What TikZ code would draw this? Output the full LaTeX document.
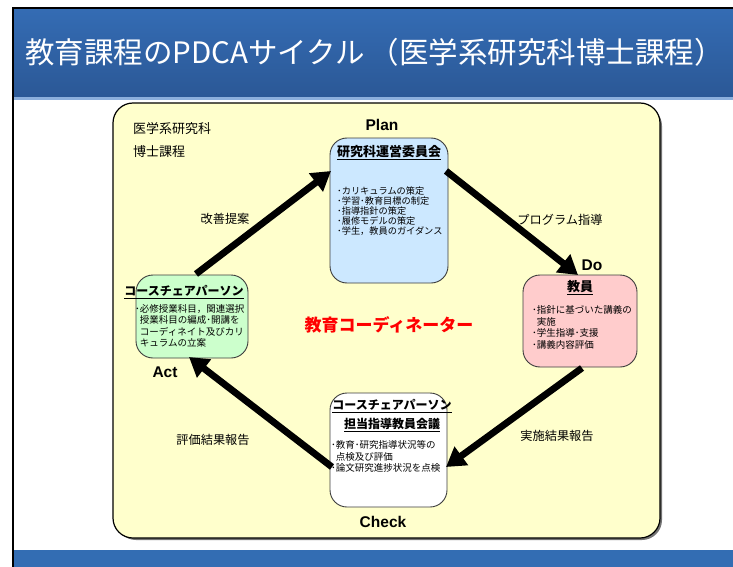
\documentclass[tikz,border=0pt]{standalone}
\usepackage{fontspec}
\setmainfont{Noto Sans CJK JP}
\newfontfamily\latinb{Liberation Sans}
\usetikzlibrary{arrows.meta}
\definecolor{hdtop}{RGB}{52,108,180}
\definecolor{hdbot}{RGB}{43,88,150}
\definecolor{hdline}{RGB}{140,175,220}
\definecolor{barblue}{RGB}{51,109,179}
\definecolor{bgyellow}{RGB}{255,255,204}
\definecolor{planblue}{RGB}{204,232,255}
\definecolor{dopink}{RGB}{255,204,204}
\definecolor{actgreen}{RGB}{204,255,204}
\definecolor{boxline}{RGB}{60,60,60}
\tikzset{
  box/.style={draw=boxline, line width=0.9pt, rounded corners=17pt, inner sep=0pt},
  bigarrow/.style={line width=6.8pt, -{Triangle[length=19pt,width=22pt]}},
  phase/.style={font=\latinb\bfseries\fontsize{15.5}{17}\selectfont, inner sep=0pt},
  boxtitle/.style={font=\bfseries\fontsize{13}{19}\selectfont, inner sep=0pt, align=center},
  bullets/.style={font=\fontsize{9.5}{11.8}\selectfont, inner sep=0pt, align=left, anchor=north west},
  elabel/.style={font=\fontsize{12.2}{14}\selectfont, inner sep=0pt},
}
\newcommand{\bdot}{･}
\newcommand{\bind}{\phantom{･}}
\begin{document}
\begin{tikzpicture}[x=1pt,y=-1pt]
\useasboundingbox (0,0) rectangle (733,567);
\fill[white] (0,0) rectangle (733,567);
% header
\shade[top color=hdtop, bottom color=hdbot] (13,8) rectangle (733,97);
\fill[hdline] (13,97) rectangle (733,100);
\node[font=\fontsize{29.5}{33}\selectfont, text=white, anchor=west, inner sep=0pt] (title) at (25,52) {教育課程のPDCAサイクル\,（医学系研究科博士課程）};
% bottom bar
\fill[barblue] (13,550) rectangle (733,567);
% frame
\draw[line width=1.4pt] (13,567) -- (13,8) -- (733,8);
% yellow panel
\fill[black!55] (116,106) [rounded corners=20pt] rectangle (662,540);
\draw[line width=1.2pt, fill=bgyellow, rounded corners=20pt] (113,103) rectangle (660,538);
\node[font=\fontsize{13}{15}\selectfont, anchor=west, inner sep=0pt] (dept1) at (133,129) {医学系研究科};
\node[font=\fontsize{13}{15}\selectfont, anchor=west, inner sep=0pt] (dept2) at (133,152) {博士課程};
% boxes
\node[box, fill=planblue, minimum width=118pt, minimum height=145pt] (plan) at (389,210.5) {};
\node[box, fill=dopink, minimum width=114pt, minimum height=92pt] (do) at (580,321) {};
\node[box, fill=actgreen, minimum width=112pt, minimum height=83pt] (act) at (192,316.5) {};
\node[box, fill=white, minimum width=117pt, minimum height=114pt] (check) at (388.5,450) {};
% plan contents
\node[boxtitle] (plantitle) at (389,153) {\underline{研究科運営委員会}};
\node[bullets, font=\fontsize{9.2}{9.9}\selectfont] (planlist) at (337,187) {\bdot カリキュラムの策定\\\bdot 学習\bdot 教育目標の制定\\\bdot 指導指針の策定\\\bdot 履修モデルの策定\\\bdot 学生，教員のガイダンス};
% do contents
\node[boxtitle] (dotitle) at (580,288) {\underline{教員}};
\node[bullets] (dolist) at (532,305) {\bdot 指針に基づいた講義の\\\bind 実施\\\bdot 学生指導\bdot 支援\\\bdot 講義内容評価};
% act contents
\node[boxtitle, font=\bfseries\fontsize{12}{14}\selectfont] (acttitle) at (184,292) {\underline{コースチェアパーソン}};
\node[bullets, font=\fontsize{9.5}{11.6}\selectfont] (actlist) at (135,304) {\bdot 必修授業科目，関連選択\\\bind 授業科目の編成\bdot 開講を\\\bind コーディネイト及びカリ\\\bind キュラムの立案};
% check contents
\node[boxtitle, font=\bfseries\fontsize{12}{19}\selectfont] (checktitle) at (392,415.5) {\underline{コースチェアパーソン}\\\underline{担当指導教員会議}};
\node[bullets] (checklist) at (331,440) {\bdot 教育\bdot 研究指導状況等の\\\bind 点検及び評価\\\bdot 論文研究進捗状況を点検};
% center
\node[font=\bfseries\fontsize{17}{20}\selectfont, text=red, inner sep=0pt] (coord) at (389,325) {教育コーディネーター};
% phase labels
\node[phase] (lplan) at (382,125) {Plan};
\node[phase] (ldo) at (592,265) {Do};
\node[phase] (lact) at (165,372) {Act};
\node[phase] (lcheck) at (383,522) {Check};
% arrow end points
\coordinate (a1s) at (196,274);
\coordinate (a1e) at (331,171);
\coordinate (a2s) at (446,171);
\coordinate (a2e) at (578,275);
\coordinate (a3s) at (582,368);
\coordinate (a3e) at (446,467);
\coordinate (a4s) at (332,467);
\coordinate (a4e) at (189,357);
\draw[bigarrow] (a1s) -- (a1e);
\draw[bigarrow] (a2s) -- (a2e);
\draw[bigarrow] (a3s) -- (a3e);
\draw[bigarrow] (a4s) -- (a4e);
% arrow labels
\node[elabel] (l1) at (225,219) {改善提案};
\node[elabel] (l2) at (560,220) {プログラム指導};
\node[elabel] (l3) at (213,440) {評価結果報告};
\node[elabel] (l4) at (557,436) {実施結果報告};
\end{tikzpicture}
\end{document}
